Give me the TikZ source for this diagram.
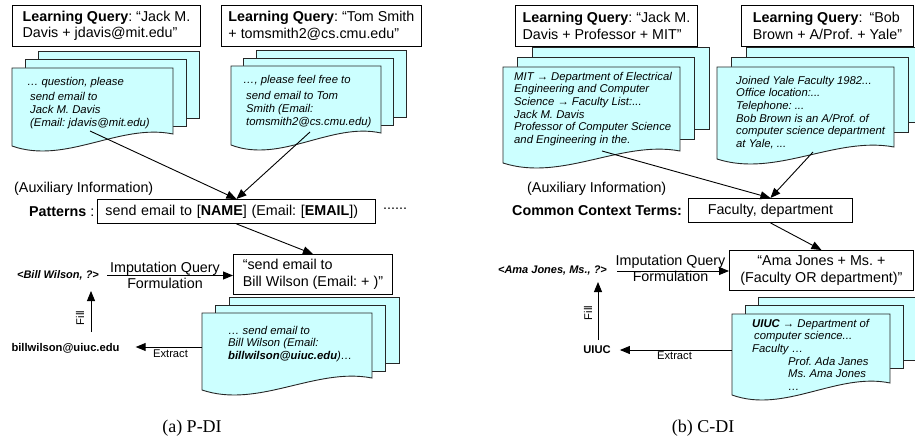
\documentclass[tikz,border=0pt]{standalone}
\usepackage{fontspec}
\setmainfont{Liberation Sans}
\newfontfamily\capfont{Liberation Serif}
\usetikzlibrary{arrows.meta}
\definecolor{docfill}{RGB}{204,255,255}
\frenchspacing

\tikzset{
  box/.style={draw, line width=0.9pt, fill=white, inner xsep=7pt, inner ysep=0pt,
    align=left, font=\fontsize{14.3}{16.7}\selectfont},
  lq/.style={box, anchor=north west, minimum height=41pt},
  plain/.style={inner sep=0pt, font=\fontsize{14.3}{16}\selectfont},
  small/.style={inner sep=0pt, font=\fontsize{11.2}{13}\selectfont},
  tuple/.style={inner sep=0pt, font=\fontsize{11}{13}\selectfont\bfseries\itshape},
  doctext/.style={anchor=north west, inner sep=0pt, align=left,
    font=\fontsize{11.3}{12.6}\selectfont\itshape, execute at begin node=\strut},
  docpage/.style={fill=docfill, draw=black!85, line width=0.9pt},
  arr/.style={line width=0.9pt, -{Triangle[length=10pt,width=8pt]}},
  caption/.style={inner sep=0pt, font=\capfont\fontsize{18}{20}\selectfont}
}

% stack of three pages: front x, front y, width, offset x, offset y,
% height of the rear pages, height of the front page (to its wavy edge)
\newcommand{\docstack}[7]{%
  \filldraw[docpage] ({#1+2*#4},{#2-2*#5}) rectangle ++(#3,#6);
  \filldraw[docpage] ({#1+#4},{#2-#5}) rectangle ++(#3,#6);
  \filldraw[docpage] (#1,#2) -- ++(#3,0) -- ({#1+#3},{#2+#7-12})
    .. controls ({#1+2*#3/3},{#2+#7-23}) and ({#1+#3/3},{#2+#7+19}) .. (#1,{#2+#7}) -- cycle;
}

\begin{document}
\begin{tikzpicture}[x=1pt,y=-1pt]
\useasboundingbox (0,0) rectangle (915,441);
\clip (0,0) rectangle (915,441);

% ---------------- (a) P-DI ----------------
\node[lq, minimum width=188pt] (lqa1) at (12,5)
  {\textbf{Learning Query}: “Jack M.\\Davis + jdavis@mit.edu”};
\node[lq, minimum width=195pt] (lqa2) at (221,5)
  {\textbf{Learning Query}: “Tom Smith\\+ tomsmith2@cs.cmu.edu”};

\docstack{12}{68}{161}{13}{8.5}{67}{78}
\docstack{231}{66}{150}{12.5}{8}{67}{79}

\node[doctext] (da1) at (27,77)
  {… question, please\\[3pt]\hspace*{3pt}send email to\\\hspace*{3pt}Jack M. Davis\\\hspace*{3pt}(Email: jdavis@mit.edu)};
\node[doctext] (da2) at (243,75)
  {…, please feel free to\\[4pt]\hspace*{3pt}send email to Tom\\\hspace*{3pt}Smith (Email:\\\hspace*{3pt}tomsmith2@cs.cmu.edu)};

\node[plain, anchor=west] (auxa) at (14,189) {(Auxiliary Information)};
\node[plain, anchor=west] (pla) at (29,212) {\textbf{Patterns} :};
\node[box, anchor=north west, text width=262pt, inner xsep=8pt, minimum height=24pt] (pat) at (97,199)
  {send email to [\textbf{NAME}] (Email: [\textbf{EMAIL}])};
\node[plain, anchor=west] (dots) at (383,209) {......};

\coordinate (sa1) at (90,131);
\coordinate (sa2) at (310,132);
\draw[arr] (sa1) -- (pat.north);
\draw[arr] (sa2) -- (pat.north);

\node[box, anchor=north west, minimum width=159pt, minimum height=40pt] (qa) at (233,254)
  {“send email to\\Bill Wilson (Email: + )”};
\draw[arr] (pat.south) -- (qa.north);

\node[tuple] (bw) at (58,275.5) {<Bill Wilson, ?>};
\node[plain, align=center] (ifa) at (165,275) {Imputation Query\\Formulation};
\draw[arr, shorten <=8pt] (bw.east) -- (bw.east -| qa.west);

\docstack{202}{313}{170}{13.5}{8}{66}{77}
\node[doctext] (da3) at (228,326)
  {… send email to\\Bill Wilson (Email:\\\textbf{billwilson@uiuc.edu})…};

\node[small, font=\fontsize{11.2}{13}\selectfont\bfseries] (bill) at (65.5,348) {billwilson@uiuc.edu};
\coordinate (exa) at (202,347);
\draw[arr, shorten >=16pt] (exa) -- (exa -| bill.east);
\node[small, anchor=north] (exta) at (170.5,350) {Extract};

\coordinate (fa1) at (91,332);
\coordinate (fa2) at (91,291);
\draw[arr] (fa1) -- (fa2);
\node[small, rotate=90] (filla) at (80,318) {Fill};

\node[caption] (capa) at (192,428) {(a) P-DI};

% ---------------- (b) C-DI ----------------
\node[lq, minimum width=182pt] (lqb1) at (515,5)
  {\textbf{Learning Query}: “Jack M.\\Davis + Professor + MIT”};
\node[lq, minimum width=172pt] (lqb2) at (741,5)
  {\textbf{Learning Query}:\hspace{3pt} “Bob\\Brown + A/Prof. + Yale”};

\docstack{503}{67}{177}{14.5}{10}{82}{96}
\docstack{717}{67}{177}{14.5}{10}{75}{92}

\node[doctext] (db1) at (514,72)
  {MIT → Department of Electrical\\Engineering and Computer\\Science → Faculty List:...\\Jack M. Davis\\Professor of Computer Science\\and Engineering in the.};
\node[doctext] (db2) at (736,76)
  {Joined Yale Faculty 1982...\\Office location:...\\Telephone: ...\\Bob Brown is an A/Prof. of\\computer science department\\at Yale, ...};

\node[plain, anchor=west] (auxb) at (527,189) {(Auxiliary Information)};
\node[plain, anchor=west] (cct) at (512,211) {\textbf{Common Context Terms:}};
\node[box, anchor=north west, align=center, minimum width=164pt, minimum height=24pt] (cc) at (688,198)
  {Faculty, department};

\coordinate (sb1) at (602,151);
\coordinate (sb2) at (813,152);
\draw[arr] (sb1) -- (cc.north);
\draw[arr] (sb2) -- (cc.north);

\node[box, anchor=north west, align=center, minimum width=184pt, minimum height=40pt] (qb) at (729,250)
  {“Ama Jones + Ms. +\\(Faculty OR department)”};
\draw[arr] (cc.south) -- (qb.north);

\node[tuple] (aj) at (552.5,271) {<Ama Jones, Ms., ?>};
\node[plain, align=center] (ifb) at (670.5,268.5) {Imputation Query\\Formulation};
\draw[arr, shorten <=10pt] (aj.east) -- (aj.east -| qb.west);

\docstack{732}{314}{158}{13}{8.5}{63}{81}
\node[doctext] (db3) at (752,319)
  {\textbf{UIUC} → Department of\\\hspace*{2pt}computer science...\\Faculty …\\\hspace*{36pt}Prof. Ada Janes\\\hspace*{36pt}Ms. Ama Jones\\\hspace*{36pt}…};

\node[small, font=\fontsize{11.2}{13}\selectfont\bfseries] (uiuc) at (597,350) {UIUC};
\coordinate (exb) at (732,350);
\draw[arr, shorten >=9pt] (exb) -- (exb -| uiuc.east);
\node[small, anchor=north] (extb) at (674.5,352) {Extract};

\coordinate (fb1) at (598,340);
\coordinate (fb2) at (598,282);
\draw[arr] (fb1) -- (fb2);
\node[small, rotate=90] (fillb) at (588,313) {Fill};

\node[caption] (capb) at (703,428) {(b) C-DI};
\end{tikzpicture}
\end{document}
